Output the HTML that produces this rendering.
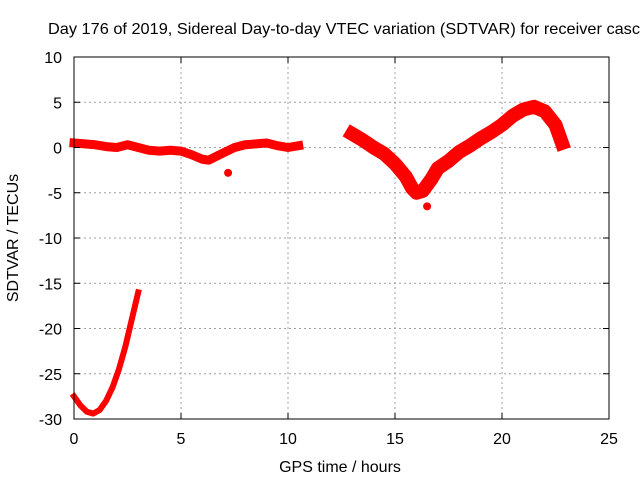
<!DOCTYPE html>
<html><head><meta charset="utf-8"><style>
body{margin:0;background:#fff}
svg text{font-family:"Liberation Sans",sans-serif;font-size:16px;fill:#000}
</style></head><body>
<svg id="c" width="640" height="480">
<text x="48" y="34" textLength="592" lengthAdjust="spacingAndGlyphs">Day 176 of 2019, Sidereal Day-to-day VTEC variation (SDTVAR) for receiver casc</text>
<g id="grid"></g><g id="marks"></g><g id="axes"></g>
<text x="340" y="472" text-anchor="middle">GPS time / hours</text>
<text transform="translate(18,238) rotate(-90)" text-anchor="middle">SDTVAR / TECUs</text>
</svg>
<script>
const xTicks=[0,5,10,15,20,25];
const yTicks=[10,5,0,-5,-10,-15,-20,-25,-30];
const seriesATime=[0,0.5,1,1.5,2,2.5,3,3.5,4,4.5,5,5.5,6,6.3,6.8,7.5,8,8.5,9,9.5,10,10.5];
const seriesAVal=[0.5,0.4,0.3,0.1,0,0.3,0,-0.3,-0.4,-0.3,-0.4,-0.8,-1.3,-1.4,-0.8,0,0.3,0.4,0.5,0.2,0,0.2];
const seriesBTime=[13,13.5,14,14.5,15,15.5,15.8,16,16.3,16.7,17,17.5,18,18.5,19,19.5,20,20.5,21,21.5,22,22.5,22.8];
const seriesBVal=[1.5,0.8,0,-0.7,-1.8,-3.2,-4.5,-5,-4.8,-3.5,-2.3,-1.5,-0.5,0.2,1,1.7,2.5,3.5,4.2,4.5,4,2.5,0.5];
const seriesCTime=[0,0.3,0.6,0.9,1.2,1.5,1.8,2.1,2.4,2.7,3];
const seriesCVal=[-27.5,-28.5,-29.2,-29.4,-29,-28,-26.5,-24.5,-22,-19,-16];
const outlierTime=[7.2,16.5];
const outlierVal=[-2.8,-6.5];
const X0=74,X1=609,Y0=419,Y1=57;
const sx=v=>X0+(v-0)/25*(X1-X0);
const sy=v=>Y0-(v+30)/40*(Y0-Y1);
const NS="http://www.w3.org/2000/svg";
function mk(t,p,a){const e=document.createElementNS(NS,t);for(const k in a)e.setAttribute(k,a[k]);p.appendChild(e);return e;}
const grid=document.getElementById('grid'),axes=document.getElementById('axes'),marks=document.getElementById('marks');
xTicks.forEach(t=>{const x=sx(t);
 if(t>0&&t<25){const g=mk('line',grid,{x1:x,x2:x,y1:Y1,y2:Y0,stroke:'#a0a0a0','stroke-dasharray':'2,3'});}
 const l=mk('text',axes,{x:x,y:444,'text-anchor':'middle'});l.textContent=t;
 
 mk('line',axes,{x1:x,x2:x,y1:Y0,y2:Y0-6,stroke:'#000'});mk('line',axes,{x1:x,x2:x,y1:Y1,y2:Y1+6,stroke:'#000'});});
yTicks.forEach(t=>{const y=sy(t);
 if(t>-30&&t<10){const g=mk('line',grid,{x1:X0,x2:X1,y1:y,y2:y,stroke:'#a0a0a0','stroke-dasharray':'2,3'});}
 const l=mk('text',axes,{x:62,y:y+6,'text-anchor':'end'});l.textContent=t;
 
 mk('line',axes,{x1:X0,x2:X0+6,y1:y,y2:y,stroke:'#000'});mk('line',axes,{x1:X1,x2:X1-6,y1:y,y2:y,stroke:'#000'});});
const fr=mk('rect',axes,{x:X0,y:Y1,width:X1-X0,height:Y0-Y1,fill:'none',stroke:'#000'});

function series(ts,vs,w,name){
 const p=mk('polyline',marks,{points:ts.map((t,i)=>sx(t)+','+sy(vs[i])).join(' '),fill:'none',stroke:'#f00','stroke-width':w,'stroke-linejoin':'round','stroke-linecap':'square'});
 
 
}
series(seriesATime,seriesAVal,9,'series-early-band');
series(seriesBTime,seriesBVal,14,'series-late-band');
series(seriesCTime,seriesCVal,6,'series-negative-arc');
outlierTime.forEach((t,i)=>{const c=mk('circle',marks,{cx:sx(t),cy:sy(outlierVal[i]),r:4,fill:'#f00'});
 
 });
</script>
</body></html>
